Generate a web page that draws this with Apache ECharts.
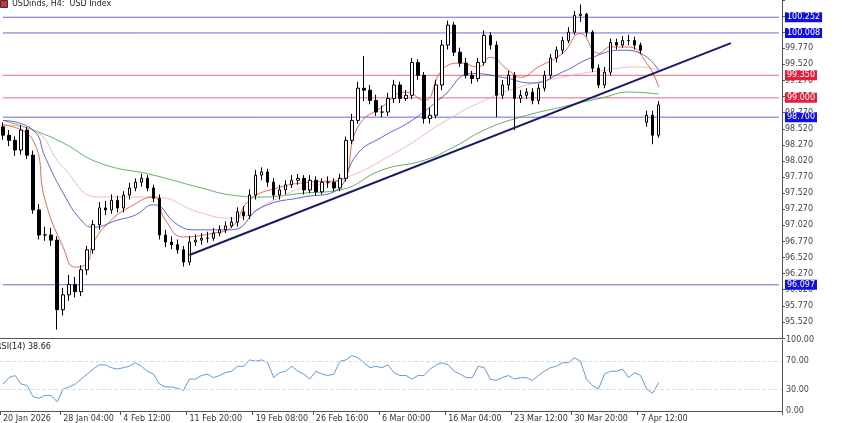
<!DOCTYPE html>
<html><head><meta charset="utf-8">
<script src="https://cdn.jsdelivr.net/npm/echarts@6/dist/echarts.min.js"></script>
<style>html,body{margin:0;padding:0;background:#fff}#c{width:846px;height:423px}</style>
</head><body><div id="c"></div>
<script>
const closes=[98.42,98.34,98.19,98.50,98.11,97.26,96.87,96.87,96.79,95.71,
95.94,96.10,95.99,96.33,96.64,97.03,97.29,97.26,97.41,97.29,
97.49,97.60,97.69,97.75,97.60,97.44,96.87,96.76,96.72,96.64,
96.45,96.76,96.79,96.82,96.82,96.90,96.95,97.01,97.07,97.23,
97.17,97.49,97.80,97.85,97.69,97.49,97.57,97.65,97.72,97.75,
97.57,97.72,97.54,97.69,97.69,97.60,97.75,98.34,98.65,99.15,
99.12,98.96,98.78,98.78,98.99,99.20,98.99,99.04,99.55,99.35,
98.68,98.73,99.20,99.82,100.13,99.71,99.54,99.35,99.30,99.55,
99.97,99.82,99.04,99.20,99.35,98.99,99.04,99.09,98.96,99.15,
99.35,99.62,99.74,99.89,100.02,100.28,100.30,100.02,99.46,99.20,
99.40,99.86,99.82,99.89,99.89,99.82,99.74,98.73,98.42,98.89];
const opens=[98.55,98.42,98.34,98.19,98.50,98.11,97.26,96.87,96.87,96.79,
95.71,95.94,96.10,95.99,96.33,96.64,97.03,97.29,97.26,97.41,
97.29,97.49,97.60,97.69,97.75,97.60,97.44,96.87,96.76,96.72,
96.64,96.45,96.76,96.79,96.82,96.82,96.90,96.95,97.01,97.07,
97.23,97.17,97.49,97.80,97.85,97.69,97.49,97.57,97.65,97.72,
97.75,97.57,97.72,97.54,97.69,97.69,97.60,97.75,98.34,98.65,
99.15,99.12,98.96,98.78,98.78,98.99,99.20,98.99,99.04,99.55,
99.35,98.68,98.73,99.20,99.82,100.13,99.71,99.54,99.35,99.30,
99.55,99.97,99.82,99.04,99.20,99.35,98.99,99.04,99.09,98.96,
99.15,99.35,99.62,99.74,99.89,100.02,100.28,100.30,100.02,99.46,
99.20,99.40,99.86,99.82,99.89,99.89,99.82,98.62,98.73,98.42];
const highs=[98.62,98.50,98.40,98.58,98.55,98.18,97.35,97.00,96.98,96.85,
96.05,96.25,96.22,96.40,96.70,97.10,97.38,97.40,97.50,97.48,
97.55,97.68,97.75,97.82,97.80,97.65,97.50,96.95,96.85,96.80,
96.70,96.85,96.88,96.90,96.92,96.98,97.02,97.08,97.15,97.30,
97.32,97.58,97.88,97.92,97.90,97.75,97.65,97.72,97.80,97.82,
97.80,97.80,97.78,97.75,97.78,97.75,97.82,98.40,98.75,99.25,
99.65,99.20,99.05,98.88,99.08,99.28,99.25,99.12,99.62,99.60,
99.40,98.85,99.28,99.90,100.20,100.18,99.78,99.62,99.42,99.62,
100.05,100.02,99.88,99.28,99.42,99.40,99.12,99.15,99.15,99.22,
99.42,99.68,99.80,99.95,100.10,100.35,100.45,100.32,100.05,99.52,
99.48,99.92,99.92,99.96,99.98,99.95,99.86,98.80,98.80,98.95];
const lows=[98.35,98.25,98.10,98.12,98.05,97.20,96.80,96.78,96.70,95.40,
95.62,95.85,95.90,95.92,96.25,96.58,96.95,97.18,97.20,97.22,
97.22,97.42,97.55,97.62,97.55,97.38,96.80,96.68,96.65,96.58,
96.38,96.40,96.70,96.72,96.75,96.78,96.85,96.90,96.98,97.00,
97.10,97.12,97.42,97.72,97.62,97.42,97.42,97.50,97.60,97.65,
97.50,97.52,97.48,97.50,97.60,97.55,97.55,97.70,98.28,98.60,
98.95,98.90,98.72,98.70,98.72,98.92,98.92,98.95,98.98,99.28,
98.60,98.60,98.68,99.12,99.75,99.65,99.48,99.30,99.22,99.25,
99.50,99.75,98.70,98.98,99.12,98.50,98.92,98.98,98.90,98.90,
99.10,99.30,99.55,99.68,99.85,99.98,100.18,99.95,99.40,99.15,
99.15,99.35,99.75,99.78,99.82,99.75,99.68,98.55,98.28,98.38];
const rsi=[38,47,50,38,36,20,18,22,22,13,31,34,38,45,52,59,65,65,61,59,
61,63,68,63,56,52,38,34,34,32,29,45,45,50,52,47,50,54,56,63,
63,72,70,72,68,47,54,56,63,56,52,45,56,52,50,52,70,72,78,75,
68,61,63,61,65,54,50,50,45,50,50,59,65,68,65,56,52,47,47,63,
61,45,43,47,50,45,47,47,43,50,56,61,63,68,68,75,70,45,36,31,
52,56,56,59,47,54,50,31,25,40];
const maFast=[[0,98.58],[5,98.34],[7,97.41],[10,96.68],[12,96.37],[14,96.44],[15,96.75],[18,97.10],[21,97.30],[25,97.46],[27,97.10],[30,96.84],[35,96.90],[38,96.99],[41,97.41],[46,97.61],[51,97.69],[56,97.72],[59,98.55],[63,98.86],[67,99.09],[70,98.96],[73,99.43],[76,99.54],[79,99.48],[81,99.63],[84,99.43],[86,99.32],[89,99.48],[93,99.69],[96,100.00],[99,99.69],[101,99.79],[104,99.79],[107,99.54],[109,99.17]];
const maMid=[[0,98.65],[5,98.50],[7,98.08],[10,97.52],[13,97.10],[15,96.99],[19,97.10],[22,97.18],[25,97.34],[29,97.03],[32,96.95],[38,96.95],[43,97.30],[50,97.46],[55,97.54],[59,98.14],[63,98.39],[68,98.65],[73,99.01],[78,99.38],[83,99.32],[88,99.23],[93,99.40],[98,99.63],[103,99.74],[106,99.69],[109,99.43]];
const maSlow=[[0,98.58],[5,98.50],[10,97.92],[16,97.46],[25,97.46],[33,97.21],[38,97.13],[45,97.41],[50,97.61],[56,97.72],[66,98.19],[73,98.61],[80,98.96],[86,99.17],[93,99.32],[100,99.43],[106,99.48],[109,99.43]];
const maLong=[[0,98.65],[5,98.50],[10,98.30],[16,97.99],[25,97.80],[33,97.60],[38,97.49],[43,97.46],[50,97.52],[56,97.57],[63,97.88],[70,98.03],[75,98.24],[80,98.50],[86,98.70],[93,98.86],[100,99.01],[104,99.09],[109,99.06]];
const trend=[[31,96.56],[121,99.85]];
const levelsBlue=[100.252,100.008,98.700,96.097];
const levelsRed=[99.350,99.000];
const timeLabels={0:'20 Jan 2026',10:'28 Jan 04:00',20:'4 Feb 12:00',31:'11 Feb 20:00',42:'19 Feb 08:00',52:'26 Feb 16:00',63:'6 Mar 00:00',74:'16 Mar 04:00',85:'23 Mar 12:00',95:'30 Mar 20:00',106:'7 Apr 12:00'};
const N=130;
const cats=[];for(let i=0;i<N;i++)cats.push(timeLabels[i]||'');
const ohlc=closes.map((c,i)=>[opens[i],c,lows[i],highs[i]]);
const F='Tahoma, "DejaVu Sans", sans-serif';
function lvlSeries(v,col,lineCol){return {type:'line',data:[[0,v],[N-1,v]],xAxisIndex:0,yAxisIndex:0,silent:true,symbol:'none',
 lineStyle:{color:lineCol,width:1},z:2,
 endLabel:{show:true,formatter:v.toFixed(3),color:'#fff',backgroundColor:col,padding:[1,2],fontSize:8,fontFamily:F,distance:6}};}
const levelSeries=levelsBlue.map(v=>lvlSeries(v,'#1010e0','#6a6ae0')).concat(levelsRed.map(v=>lvlSeries(v,'#e0203c','#e86a80')));
const chart=echarts.init(document.getElementById('c'));
const maS=(d,col)=>({type:'line',data:d,xAxisIndex:0,yAxisIndex:0,smooth:0.5,symbol:'none',lineStyle:{color:col,width:0.8},silent:true,z:3});
chart.setOption({animation:false,
grid:[{left:0,right:64,top:0,height:338,containLabel:false},{left:0,right:64,top:340,height:73}],
xAxis:[{type:'category',data:cats,gridIndex:0,boundaryGap:true,axisLine:{show:true,lineStyle:{color:'#555'}},axisTick:{show:false},axisLabel:{show:false},splitLine:{show:false}},
{type:'category',data:cats,gridIndex:1,boundaryGap:true,axisLine:{show:true,lineStyle:{color:'#555'}},axisTick:{show:true,interval:(i)=>!!timeLabels[i],length:4,lineStyle:{color:'#555'}},axisLabel:{show:true,interval:(i)=>!!timeLabels[i],align:'left',margin:4,fontSize:8,fontFamily:F,color:'#333'}}],
yAxis:[{type:'value',gridIndex:0,position:'right',min:95.27,max:100.52,interval:0.25,axisLine:{show:true,lineStyle:{color:'#555'}},axisTick:{show:true,length:3},splitLine:{show:false},axisLabel:{fontSize:8,fontFamily:F,color:'#444',margin:3,formatter:(v)=>(v<95.4||v>99.9)?'':v.toFixed(3)}},
{type:'value',gridIndex:1,position:'right',min:0,max:100,interval:10,axisLine:{show:true,lineStyle:{color:'#555'}},axisTick:{show:false},splitLine:{show:false},axisLabel:{fontSize:8,fontFamily:F,color:'#444',margin:4,formatter:(v)=>[0,30,70,100].includes(v)?v.toFixed(2):''}}],
series:[
{type:'candlestick',data:ohlc,xAxisIndex:0,yAxisIndex:0,barWidth:3,itemStyle:{color:'#ffffff',color0:'#000000',borderColor:'#000000',borderColor0:'#000000',borderWidth:1},z:4},
maS(maLong,'#3c9a3c'),maS(maSlow,'#f4a6a6'),maS(maMid,'#3a3ad6'),maS(maFast,'#e8402a'),
{type:'line',data:trend,symbol:'none',lineStyle:{color:'#1a1a66',width:2},silent:true,z:5},
{type:'line',data:rsi,xAxisIndex:1,yAxisIndex:1,symbol:'none',lineStyle:{color:'#5b9be6',width:1},markLine:{symbol:'none',silent:true,label:{show:false},lineStyle:{color:'#ddd',type:'dashed',width:1},data:[{yAxis:30},{yAxis:70}]}}
].concat(levelSeries),
graphic:[
{type:'rect',left:0,top:0,shape:{width:7,height:7},style:{fill:'#c33',stroke:'#333'}},
{type:'text',left:12,top:0,style:{text:'USDinds, H4:  USD Index',font:'8px '+F,fill:'#222'}},
{type:'text',left:-4,top:343,style:{text:'RSI(14) 38.66',font:'8px '+F,fill:'#222'}}
]});
</script></body></html>
